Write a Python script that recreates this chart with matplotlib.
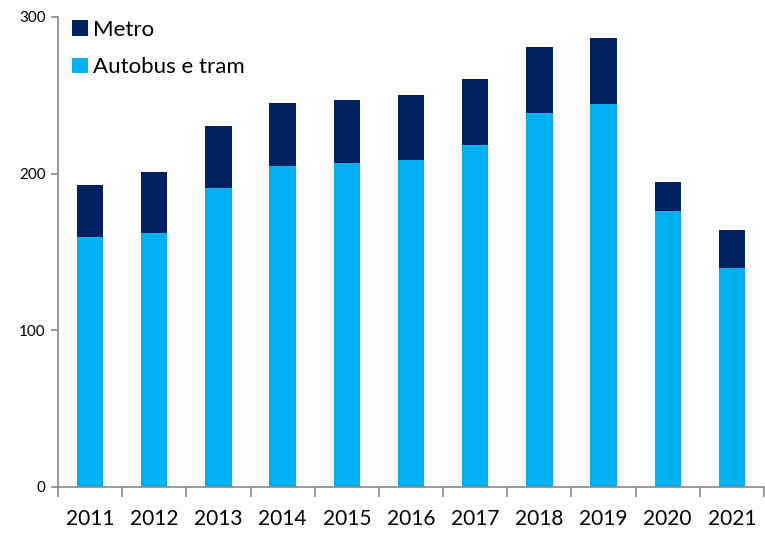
import numpy as np
import matplotlib.pyplot as plt
from matplotlib.ticker import FixedLocator

years = ['2011', '2012', '2013', '2014', '2015', '2016', '2017', '2018', '2019', '2020', '2021']
autobus_tram = [159.5, 162, 191, 205, 206.5, 208.5, 218, 239, 244.5, 176, 140]
metro_total = [193, 201, 230.5, 245, 247, 250, 260.5, 281, 286.5, 194.5, 164]
metro = [t - b for t, b in zip(metro_total, autobus_tram)]

plt.rcParams['font.family'] = ['Lato', 'DejaVu Sans']

fig = plt.figure(figsize=(7.65, 5.34), dpi=100)
ax = fig.add_axes([58 / 765, 47 / 534, 706 / 765, 470 / 534])

x = np.arange(len(years))
ax.bar(x, autobus_tram, width=0.41, color='#00B0F0', label='Autobus e tram')
ax.bar(x, metro, width=0.41, bottom=autobus_tram, color='#002060', label='Metro')

ax.set_xlim(-0.5, len(years) - 0.5)
ax.set_ylim(0, 300)
ax.set_yticks([0, 100, 200, 300])
ax.set_xticks(x)
ax.set_xticklabels(years, fontsize=15)
ax.xaxis.set_minor_locator(FixedLocator(np.arange(-0.5, len(years), 1)))
ax.tick_params(axis='x', which='major', length=0, pad=16)
ax.tick_params(axis='x', which='minor', length=7, color='#888888', width=1.2)
ax.tick_params(axis='y', length=5, color='#888888', width=1.2, labelsize=11, pad=4)

for s in ['top', 'right']:
    ax.spines[s].set_visible(False)
for s in ['left', 'bottom']:
    ax.spines[s].set_color('#888888')
    ax.spines[s].set_linewidth(1.2)

handles, labels = ax.get_legend_handles_labels()
ax.legend(handles[::-1], labels[::-1], loc='upper left', bbox_to_anchor=(-0.008, 1.037),
          frameon=False, fontsize=16, handlelength=0.7, handleheight=0.7,
          handletextpad=0.25, labelspacing=0.8)

fig.savefig('out.png', dpi=100)
